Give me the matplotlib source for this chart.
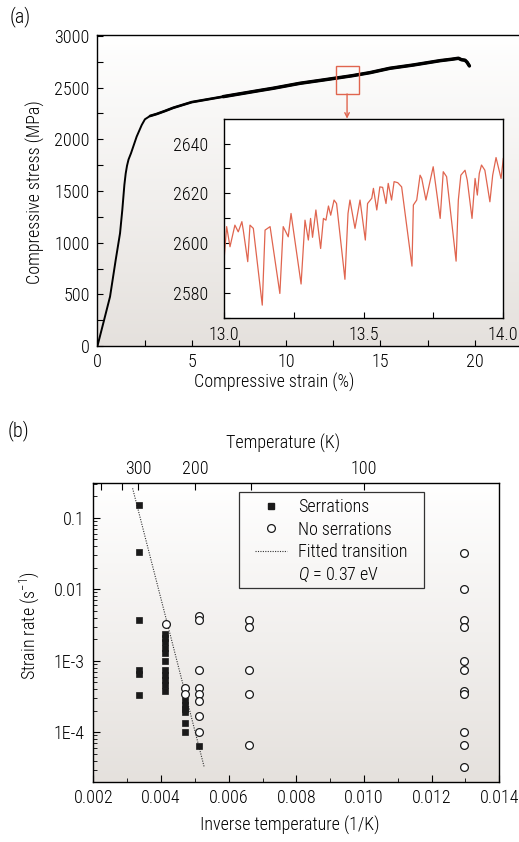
import numpy as np
import matplotlib
matplotlib.use("Agg")
import matplotlib.pyplot as plt
from matplotlib.lines import Line2D
from matplotlib.patches import Rectangle
from matplotlib import font_manager as fm
from matplotlib.ticker import MultipleLocator, FixedLocator, FixedFormatter, LogLocator, NullFormatter

# ---------------- data: panel (a) ----------------
main_strain = [0, 0.31, 0.67, 0.97, 1.20, 1.32, 1.43, 1.50, 1.57, 1.65, 1.78, 2.08, 2.35, 2.52, 2.79, 3.14, 3.58,
               4.02, 5.0, 6.67, 8.62, 9.32, 10.74, 11.97, 13.5, 14.45, 15.5, 16.75, 18.17, 18.8,
               19.14, 19.3, 19.49, 19.6, 19.72]
main_stress = [0, 221, 479, 834, 1092, 1317, 1560, 1670, 1745, 1805, 1865, 2026, 2139, 2194, 2226, 2245, 2274,
               2305, 2360, 2413, 2473, 2494, 2542, 2574, 2615, 2645, 2687, 2719, 2761, 2775,
               2784, 2770, 2765, 2745, 2710]

inset_strain = [13.000, 13.0095, 13.0215, 13.039, 13.051, 13.064, 13.069, 13.085, 13.093, 13.105,
                13.137, 13.147, 13.165, 13.200, 13.212, 13.230, 13.240, 13.276, 13.290, 13.302,
                13.310, 13.317, 13.329, 13.346, 13.356, 13.365, 13.374, 13.382, 13.394, 13.403,
                13.433, 13.444, 13.451, 13.469, 13.487, 13.506, 13.514, 13.529, 13.535, 13.547,
                13.558, 13.568, 13.580, 13.588, 13.600, 13.609, 13.622, 13.636, 13.673, 13.678,
                13.690, 13.702, 13.708, 13.723, 13.749, 13.774, 13.785, 13.797, 13.831, 13.839,
                13.848, 13.863, 13.871, 13.888, 13.899, 13.907, 13.914, 13.922, 13.934, 13.952,
                13.962, 13.974, 13.992, 14.000]
inset_stress = [2593.1, 2606.6, 2598.5, 2607.2, 2604.5, 2608.6, 2605.2, 2592.5, 2607.2, 2605.9,
                2575.0, 2605.2, 2606.6, 2579.7, 2606.6, 2602.5, 2611.9, 2583.5, 2609.2, 2601.2,
                2609.9, 2602.3, 2613.3, 2597.8, 2609.9, 2609.2, 2614.9, 2611.2, 2617.3, 2615.9,
                2585.4, 2611.9, 2617.3, 2605.9, 2617.3, 2601.2, 2615.9, 2618.0, 2622.0, 2613.3,
                2622.6, 2622.4, 2615.9, 2624.0, 2617.3, 2624.7, 2624.3, 2622.6, 2590.7, 2615.3,
                2617.3, 2627.3, 2626.0, 2617.3, 2630.7, 2609.9, 2628.7, 2626.7, 2592.7, 2617.3,
                2627.3, 2629.3, 2625.3, 2609.9, 2626.0, 2619.3, 2628.0, 2631.4, 2629.3, 2616.6,
                2627.3, 2634.4, 2626.0, 2634.0]

zoom_box_strain = [12.64, 13.85]
zoom_box_stress = [2439, 2712]

# ---------------- data: panel (b) ----------------
serr_invT = [0.00336, 0.00336, 0.00336, 0.00336, 0.00336, 0.00336,
             0.00413, 0.00413, 0.00413, 0.00413, 0.00413, 0.00413, 0.00413, 0.00413, 0.00413, 0.00413, 0.00413,
             0.00470, 0.00470, 0.00470, 0.00470, 0.00470, 0.00470,
             0.00511]
serr_rate = [0.15, 0.0328, 0.0037, 7.5e-4, 6.5e-4, 3.3e-4,
             2.4e-3, 2.1e-3, 1.8e-3, 1.5e-3, 1.3e-3, 1.0e-3, 7.5e-4, 6.3e-4, 5.3e-4, 4.5e-4, 3.8e-4,
             2.8e-4, 2.4e-4, 2.1e-4, 1.9e-4, 1.35e-4, 1.0e-4,
             6.4e-5]

noserr_invT = [0.00415,
               0.00470, 0.00470,
               0.00511, 0.00511, 0.00511, 0.00511, 0.00511, 0.00511, 0.00511, 0.00511,
               0.00661, 0.00661, 0.00661, 0.00661, 0.00661,
               0.01296, 0.01296, 0.01296, 0.01296, 0.01296, 0.01296, 0.01296, 0.01296, 0.01296, 0.01296, 0.01296]
noserr_rate = [3.3e-3,
               4.1e-4, 3.4e-4,
               4.2e-3, 3.7e-3, 7.3e-4, 4.1e-4, 3.4e-4, 2.7e-4, 1.7e-4, 1.0e-4,
               3.7e-3, 3.0e-3, 7.5e-4, 3.4e-4, 6.6e-5,
               0.0324, 0.0101, 3.7e-3, 3.0e-3, 1.0e-3, 7.3e-4, 3.8e-4, 3.4e-4, 1.0e-4, 6.7e-5, 3.3e-5]

fit_invT = [0.00316, 0.00528]
fit_rate = [0.258, 3.2e-5]

temp_major = [300, 200, 100]
temp_minor = [450, 350, 150]
rate_ticks = [0.1, 0.01, 1e-3, 1e-4]
rate_labels = ["0.1", "0.01", "1E-3", "1E-4"]
invT_ticks = [0.002, 0.004, 0.006, 0.008, 0.010, 0.012, 0.014]
invT_labels = ["0.002", "0.004", "0.006", "0.008", "0.010", "0.012", "0.014"]

# ---------------- fonts ----------------
names = {f.name for f in fm.fontManager.ttflist}
candidates = ["Roboto Condensed", "Liberation Sans Narrow", "Archivo Narrow", "PT Sans Narrow",
              "Fira Sans Condensed", "IBM Plex Sans Condensed", "Open Sans Condensed",
              "Barlow Semi Condensed", "Encode Sans Condensed", "Asap Condensed"]
base = next((c for c in candidates if c in names), None)
if base is None:
    base = "Liberation Sans"
    plt.rcParams["font.stretch"] = "condensed"
plt.rcParams["font.family"] = [base, "DejaVu Sans"]
plt.rcParams["font.weight"] = "light"
plt.rcParams["axes.labelweight"] = "light"
plt.rcParams["mathtext.fontset"] = "custom"
plt.rcParams["mathtext.rm"] = base + ":light"
plt.rcParams["mathtext.it"] = base + ":italic:light"
FS = 13
plt.rcParams["font.size"] = FS
RED = "#e0654f"

W, H = 519, 842
fig = plt.figure(figsize=(W / 100, H / 100), dpi=100)

def rect(l, r, t, b):
    return [l / W, (H - b) / H, (r - l) / W, (b - t) / H]

def gradient_bg(ax):
    g = np.linspace(0, 1, 256).reshape(-1, 1)
    top = np.array([1.0, 1.0, 1.0])
    bot = np.array([0.898, 0.882, 0.867])
    img = top * (1 - g[..., None]) + bot * g[..., None]
    img = img.reshape(256, 1, 3)
    ax.imshow(img, extent=[0, 1, 0, 1], transform=ax.transAxes, aspect="auto",
              zorder=-10, interpolation="bicubic")

# ---------------- panel (a) ----------------
axa = fig.add_axes(rect(97.4, 519, 35, 346.2))
gradient_bg(axa)
axa.plot(main_strain, main_stress, color="black", lw=1.4, zorder=3,
         solid_capstyle="round", solid_joinstyle="round")
k1 = main_strain.index(2.79)
axa.plot(main_strain[k1:], main_stress[k1:], color="black", lw=1.9, zorder=3,
         solid_capstyle="round", solid_joinstyle="round")
k2 = main_strain.index(6.67)
axa.plot(main_strain[k2:], main_stress[k2:], color="black", lw=2.5, zorder=3,
         solid_capstyle="round", solid_joinstyle="round")
axa.set_xlim(0, 22.35)
axa.set_ylim(0, 3009)
axa.xaxis.set_major_locator(MultipleLocator(5))
axa.xaxis.set_minor_locator(MultipleLocator(2.5))
axa.yaxis.set_major_locator(MultipleLocator(500))
axa.yaxis.set_minor_locator(MultipleLocator(250))
axa.tick_params(which="both", direction="in", length=4, width=0.8, labelsize=FS)
axa.tick_params(axis="y", pad=5.5)
axa.tick_params(axis="x", pad=5)
axa.spines["right"].set_visible(False)
for s in axa.spines.values():
    s.set_linewidth(1.0)
axa.set_xlabel("Compressive strain (%)", fontsize=FS)
axa.set_ylabel("Compressive stress (MPa)", fontsize=FS)
axa.xaxis.set_label_coords(0.42, -0.085)
axa.yaxis.set_label_coords(-0.125, 0.495)

axa.add_patch(Rectangle((zoom_box_strain[0], zoom_box_stress[0]),
                        zoom_box_strain[1] - zoom_box_strain[0],
                        zoom_box_stress[1] - zoom_box_stress[0],
                        fill=False, edgecolor=RED, lw=1.0, zorder=4))
axa.annotate("", xy=(np.mean(zoom_box_strain) - 0.01, 2200),
             xytext=(np.mean(zoom_box_strain) - 0.01, zoom_box_stress[0]),
             arrowprops=dict(arrowstyle="->", color=RED, lw=1.0, shrinkA=0, shrinkB=0,
                             mutation_scale=8), zorder=4)

# inset
axi = fig.add_axes(rect(224, 503.3, 119.3, 318.3))
axi.set_facecolor("white")
axi.plot(inset_strain, inset_stress, color=RED, lw=0.9)
axi.set_xlim(13.0, 14.0)
axi.set_ylim(2569.7, 2649.8)
axi.xaxis.set_major_locator(FixedLocator([13.0, 13.5, 14.0]))
axi.xaxis.set_major_formatter(FixedFormatter(["13.0", "13.5", "14.0"]))
axi.xaxis.set_minor_locator(FixedLocator([13.25, 13.75]))
axi.yaxis.set_major_locator(MultipleLocator(20))
axi.yaxis.set_minor_locator(MultipleLocator(10))
axi.tick_params(which="both", direction="in", length=4, width=0.8, labelsize=FS)
axi.tick_params(axis="y", pad=11)
axi.tick_params(axis="x", pad=5.5)
for s in axi.spines.values():
    s.set_linewidth(1.0)

fig.text(10 / W, 1 - 6 / H, "(a)", fontsize=14.5, va="top", ha="left")

# ---------------- panel (b) ----------------
axb = fig.add_axes(rect(92.7, 499.3, 483.3, 781.7))
gradient_bg(axb)
axb.set_yscale("log")
axb.plot(fit_invT, fit_rate, linestyle=(0, (1, 1.2)), color="#333333", lw=0.8, zorder=2)
axb.plot(serr_invT, serr_rate, linestyle="none", marker="s", ms=5.0, mfc="#1a1a1a",
         mec="#1a1a1a", mew=0.5, zorder=3)
axb.plot(noserr_invT, noserr_rate, linestyle="none", marker="o", ms=5.6, mfc="white",
         mec="#1a1a1a", mew=0.9, zorder=4)
axb.set_xlim(0.00198, 0.01398)
axb.set_ylim(2.03e-5, 0.303)
axb.set_xticks(invT_ticks)
axb.set_xticklabels(invT_labels)
axb.xaxis.set_minor_locator(MultipleLocator(0.001))
axb.yaxis.set_major_locator(FixedLocator(rate_ticks))
axb.yaxis.set_major_formatter(FixedFormatter(rate_labels))
axb.yaxis.set_minor_locator(LogLocator(base=10, subs=np.arange(2, 10), numticks=20))
axb.yaxis.set_minor_formatter(NullFormatter())
axb.tick_params(which="major", direction="in", length=5, width=0.8, labelsize=FS)
axb.tick_params(which="minor", direction="in", length=3, width=0.6)
axb.tick_params(axis="y", pad=6)
axb.tick_params(axis="x", pad=5)
for s in axb.spines.values():
    s.set_linewidth(1.0)
axb.set_xlabel("Inverse temperature (1/K)", fontsize=FS)
axb.set_ylabel("Strain rate (s$^{\\mathregular{-1}}$)", fontsize=FS)
axb.xaxis.set_label_coords(0.485, -0.115)
axb.yaxis.set_label_coords(-0.125, 0.525)

axt = axb.twiny()
axt.set_xlim(axb.get_xlim())
axt.set_xticks([1.0 / t for t in temp_major])
axt.set_xticklabels([str(t) for t in temp_major])
axt.set_xticks([1.0 / t for t in temp_minor], minor=True)
axt.tick_params(which="major", direction="in", length=5, width=0.8, labelsize=FS, pad=4)
axt.tick_params(which="minor", direction="in", length=5, width=0.8)
axt.set_xlabel("Temperature (K)", fontsize=FS)
axt.xaxis.set_label_coords(0.469, 1.115)
for s in axt.spines.values():
    s.set_visible(False)

# legend box
bx0 = (239.3 - 92.7) / 406.6
bx1 = (424.3 - 92.7) / 406.6
by0 = (781.7 - 588.3) / 298.4
by1 = (781.7 - 491.7) / 298.4
axb.add_patch(Rectangle((bx0, by0), bx1 - bx0, by1 - by0, transform=axb.transAxes,
                        fill=False, edgecolor="#333333", lw=0.9, zorder=5))
handles = [
    Line2D([], [], linestyle="none", marker="s", ms=5.0, mfc="#1a1a1a", mec="#1a1a1a"),
    Line2D([], [], linestyle="none", marker="o", ms=5.6, mfc="white", mec="#1a1a1a", mew=0.9),
    Line2D([], [], linestyle=(0, (1, 1.2)), color="#333333", lw=0.8),
    Line2D([], [], linestyle="none"),
]
labels = ["Serrations", "No serrations", "Fitted transition", "$\\mathit{Q}$ = 0.37 eV"]
leg = axb.legend(handles, labels, loc="upper left",
                 bbox_to_anchor=((255 - 92.7) / 406.6, (781.7 - 498) / 298.4),
                 frameon=False, fontsize=FS, handlelength=1.75, handletextpad=0.65,
                 labelspacing=0.25, borderpad=0, borderaxespad=0)

fig.text(8 / W, 1 - 420 / H, "(b)", fontsize=14.5, va="top", ha="left")

fig.savefig("out.png", dpi=100)
